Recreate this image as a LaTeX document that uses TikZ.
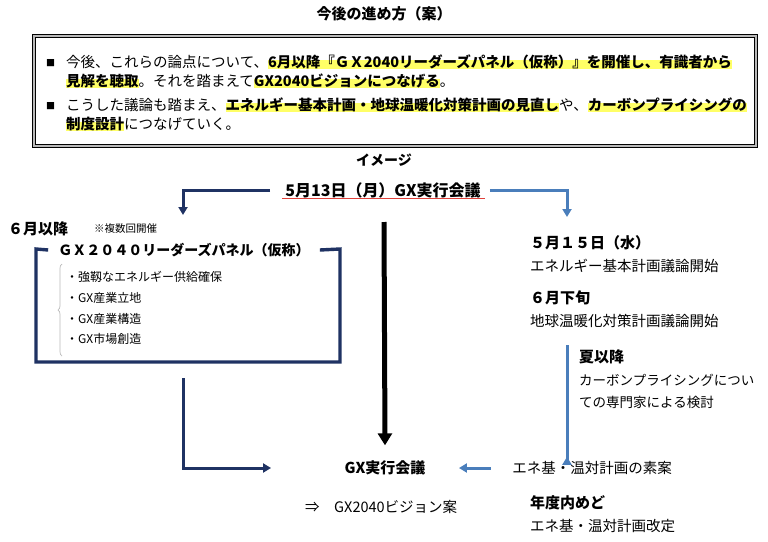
\documentclass[tikz,border=0pt]{standalone}
\usepackage{fontspec}
\setmainfont{Noto Sans CJK JP}
\usetikzlibrary{arrows.meta,decorations.pathreplacing}
\definecolor{navy}{HTML}{1F3263}
\definecolor{steel}{HTML}{4A7EBB}
\definecolor{uline}{HTML}{E0403A}
\definecolor{hlyel}{HTML}{FFFF66}
\newcommand\pxfont[1]{\fontsize{#1}{#1}\selectfont}
\newcommand\hlbold[1]{{\bfseries\setbox0\hbox{#1}\rlap{\color{hlyel}\rule[-0.15em]{\wd0}{0.62em}}\box0}}

\begin{document}
\begin{tikzpicture}[x=1pt,y=-1pt]
        \useasboundingbox (0,0) rectangle (768,541);
        \node [font=\bfseries\pxfont{15}] (title) at (384,14) {今後の進め方（案）};
        \node [draw=black, line width=1.1pt, double=gray!55, double distance=1.4pt,
               minimum width=722pt, minimum height=110pt] (frame) at (395,91) {};

        \begin{scope}[every node/.style={anchor=base west,inner sep=0pt,font=\pxfont{14.5}}]
            \node [font=\pxfont{9}] (sq1) at (46,66) {■};
            \node (l1) at (66,67) {今後、これらの論点について、\hlbold{6月以降『ＧＸ2040リーダーズパネル（仮称）』を開催し、有識者から}};
            \node (l2) at (66,86) {\hlbold{見解を聴取}。それを踏まえて\hlbold{GX2040ビジョンにつなげる}。};
            \node [font=\pxfont{9}] (sq2) at (46,109) {■};
            \node (l3) at (66,110) {こうした議論も踏まえ、\hlbold{エネルギー基本計画・地球温暖化対策計画の見直し}や、\hlbold{カーボンプライシングの}};
            \node (l4) at (66,129) {\hlbold{制度設計}につなげていく。};
        \end{scope}

        \node [font=\bfseries\pxfont{14}] (image) at (384,160) {イメージ};
        \node [font=\bfseries\pxfont{16}, inner sep=1pt] (mtg) at (383,190) {5月13日（月）GX実行会議};
        \draw [uline, line width=1pt] ([xshift=-2pt]mtg.south west) -- ([xshift=3pt]mtg.south east);

        \begin{scope}[every node/.style={anchor=base west,inner sep=0pt,font=\pxfont{14.5}}]
            \node [font=\bfseries\pxfont{15}] (jun) at (8,234) {６月以降};
            \node [font=\pxfont{10.5}] (note) at (94,232) {※複数回開催};
            \node [font=\bfseries\pxfont{14}, anchor=center] (panel) at (184,250) {ＧＸ２０４０リーダーズパネル（仮称）};
            \node [font=\pxfont{12}] (it1) at (66,281) {・強靱なエネルギー供給確保};
            \node [font=\pxfont{12}] (it2) at (66,302) {・GX産業立地};
            \node [font=\pxfont{12}] (it3) at (66,323) {・GX産業構造};
            \node [font=\pxfont{12}] (it4) at (66,343) {・GX市場創造};

            \node [font=\bfseries\pxfont{15}] (d515) at (530,248) {５月１５日（水）};
            \node (ene) at (530,271) {エネルギー基本計画議論開始};
            \node [font=\bfseries\pxfont{15}] (jun2) at (530,303) {６月下旬};
            \node (ondan) at (530,326) {地球温暖化対策計画議論開始};
            \node [font=\bfseries\pxfont{15}] (summer) at (579,362) {夏以降};
            \node [font=\pxfont{13.5}] (cp1) at (579,385) {カーボンプライシングについ};
            \node [font=\pxfont{13.5}] (cp2) at (579,407) {ての専門家による検討};
            \node [font=\bfseries\pxfont{15}] (due) at (530,508) {年度内めど};
            \node (kaitei) at (530,531) {エネ基・温対計画改定};
            \node (vision) at (305,512) {⇒　GX2040ビジョン案};
        \end{scope}

        \node [font=\bfseries\pxfont{15}] (gx) at (385,468) {GX実行会議};
        \node [font=\pxfont{14.5}] (soan) at (592,468) {エネ基・温対計画の素案};

        \coordinate (pnw) at (36,249);
        \coordinate (psw) at (36,362);
        \coordinate (pse) at (340,362);
        \coordinate (pne) at (340,249);
        \coordinate (panelIn) at (183,215);
        \coordinate (rightIn) at (567,217);
        \coordinate (blkTop) at (384,222);
        \coordinate (navyFrom) at (183,378);
        \coordinate (blueTop) at (567,345);

        \draw [navy, line width=3.4pt] ([xshift=-10pt]panel.west) -- (pnw) -- (psw) -- (pse) -- (pne) -- ([xshift=10pt]panel.east);
        \draw [gray!55, line width=0.7pt, decorate, decoration={brace, amplitude=4pt}]
            (62,356) -- (62,264);

        \begin{scope}[line join=miter]
            \draw [navy, line width=3pt, -{Triangle[length=8pt,width=9pt]}] ([xshift=-14pt]mtg.west) -| (panelIn);
            \draw [steel, line width=3pt, -{Triangle[length=8pt,width=9pt]}] ([xshift=8pt]mtg.east) -| (rightIn);
            \draw [black, line width=5pt, -{Triangle[length=12pt,width=14pt]}] (blkTop) -- ([yshift=12pt]gx.north);
            \draw [navy, line width=3pt, -{Triangle[length=8pt,width=9pt]}] (navyFrom) |- ([xshift=-70pt]gx.west);
            \draw [steel, line width=3pt, -{Triangle[length=8pt,width=9pt]}] (blueTop) -- (blueTop |- soan.north) -- ++(0,-1);
            \draw [steel, line width=3pt, -{Triangle[length=8pt,width=9pt]}] ([xshift=-18pt]soan.west) -- ([xshift=30pt]gx.east);
        \end{scope}
\end{tikzpicture}
\end{document}
